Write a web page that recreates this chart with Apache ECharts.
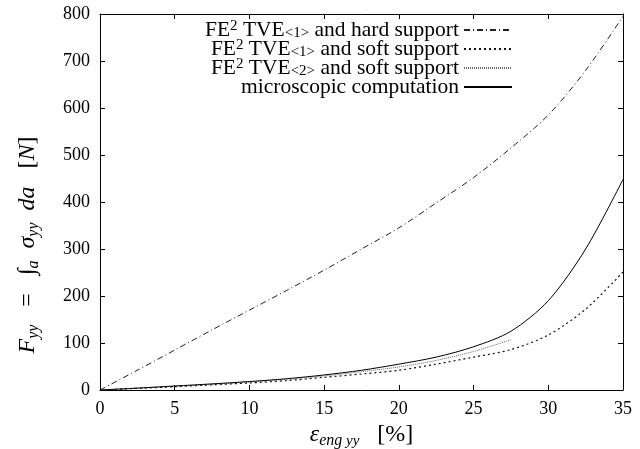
<!DOCTYPE html>
<html>
<head>
<meta charset="utf-8">
<script src="https://cdn.jsdelivr.net/npm/echarts@6/dist/echarts.min.js"></script>
<style>
  html, body { margin: 0; padding: 0; background: #fff; }
  #chart { width: 640px; height: 449px; }
</style>
</head>
<body>
<div id="chart"></div>
<script>
// strain values [%]
var strain = [0, 2.5, 5, 7.5, 10, 12.5, 15, 17.5, 20, 22.5, 25, 27.5, 30, 32.5, 35]
var strainTve2 = [0, 2.5, 5, 7.5, 10, 12.5, 15, 17.5, 20, 22.5, 25, 27.5]

// force values [N]
var hardTve1 = [0, 42, 85, 128, 170, 212, 255, 300, 345, 398, 452, 515, 585, 680, 795]
var softTve1 = [0, 3.5, 7, 11, 15, 20, 27, 34, 42, 55, 70, 86, 117, 172, 251]
var softTve2 = [0, 4, 8, 12, 17, 23, 30, 39, 49, 63, 82, 107]
var micro = [0, 4, 8.5, 13, 18, 24, 32, 42, 55, 70, 92, 125, 190, 300, 448]

function pairs(xs, ys) {
  return ys.map(function (v, i) { return [xs[i], v] })
}

var font = 'Liberation Serif'
var rich = {
  // axis names
  i: { fontFamily: font, fontSize: 24, fontStyle: 'italic', color: '#000', lineHeight: 28 },
  n: { fontFamily: font, fontSize: 24, color: '#000', lineHeight: 28 },
  s: { fontFamily: font, fontSize: 16, fontStyle: 'italic', color: '#000', lineHeight: 18, verticalAlign: 'bottom' },
  ss: { fontFamily: font, fontSize: 15, fontStyle: 'italic', color: '#000', lineHeight: 15, verticalAlign: 'bottom' },
  // legend
  ln: { fontFamily: font, fontSize: 21.5, color: '#000', lineHeight: 22 },
  lsub: { fontFamily: font, fontSize: 15, color: '#000', lineHeight: 14, verticalAlign: 'bottom' },
  lsup: { fontFamily: font, fontSize: 15, color: '#000', lineHeight: 14, verticalAlign: 'top' }
}

var names = [
  'FE2 TVE<1> and hard support',
  'FE2 TVE<1> and soft support',
  'FE2 TVE<2> and soft support',
  'microscopic computation'
]

var chart = echarts.init(document.getElementById('chart'))

var axisCommon = {
  min: 0,
  axisLine: { show: true, onZero: false, lineStyle: { color: '#000', width: 1 } },
  axisTick: { show: true, inside: true, length: 5, lineStyle: { color: '#000' } },
  splitLine: { show: false }
}

var option = {
  backgroundColor: '#fff',
  animation: false,
  grid: { left: 100, right: 17, top: 14, bottom: 59, outerBoundsMode: 'none', containLabel: false },
  legend: {
    orient: 'vertical',
    align: 'right',
    right: 122,
    top: 14,
    itemWidth: 48,
    itemHeight: 14,
    itemGap: -3,
    itemStyle: { opacity: 0 },
    data: names,
    formatter: function (name) {
      if (name.indexOf('FE2') === 0) {
        var sub = name.indexOf('<1>') > 0 ? '<1>' : '<2>'
        var rest = name.split(sub)[1]
        return '{ln|FE}{lsup|2}{ln| TVE}{lsub|' + sub + '}{ln|' + rest + '}'
      }
      return '{ln|' + name + '}'
    },
    textStyle: { rich: rich, fontFamily: font, fontSize: 21.5, color: '#000' }
  },
  xAxis: [
    Object.assign({}, axisCommon, {
      type: 'value', max: 35, interval: 5, position: 'bottom',
      axisLabel: { color: '#000', fontFamily: font, fontSize: 18, margin: 10 },
      name: '{i|ε}{s|eng}{ss| yy}{n|   [%]}',
      nameLocation: 'middle',
      nameGap: 31,
      nameTextStyle: { rich: rich }
    }),
    Object.assign({}, axisCommon, {
      type: 'value', max: 35, interval: 5, position: 'top',
      axisLabel: { show: false }
    })
  ],
  yAxis: [
    Object.assign({}, axisCommon, {
      type: 'value', max: 800, interval: 100, position: 'left',
      axisLabel: { color: '#000', fontFamily: font, fontSize: 18, margin: 10 },
      name: '{i|F}{s|yy}{n|   =   ∫}{s|a}{i|  σ}{s|yy}{i|  da   }{n|[}{i|N}{n|]}',
      nameLocation: 'middle',
      nameRotate: 90,
      nameGap: 58,
      nameTextStyle: { rich: rich, padding: [0, 86, 0, 0] }
    }),
    Object.assign({}, axisCommon, {
      type: 'value', max: 800, interval: 100, position: 'right',
      axisLabel: { show: false }
    })
  ],
  series: [
    {
      name: names[0], type: 'line', symbol: 'none', smooth: 0.3,
      lineStyle: { color: '#222', width: 1, type: [6, 3, 1, 3] },
      data: pairs(strain, hardTve1)
    },
    {
      name: names[1], type: 'line', symbol: 'none', smooth: 0.3,
      lineStyle: { color: '#111', width: 1.2, type: [2, 3] },
      data: pairs(strain, softTve1)
    },
    {
      name: names[2], type: 'line', symbol: 'none', smooth: 0.3,
      lineStyle: { color: '#666', width: 1, type: [1, 1] },
      data: pairs(strainTve2, softTve2)
    },
    {
      name: names[3], type: 'line', symbol: 'none', smooth: 0.3,
      lineStyle: { color: '#000', width: 1 },
      data: pairs(strain, micro)
    }
  ]
}

chart.setOption(option)
</script>
</body>
</html>
